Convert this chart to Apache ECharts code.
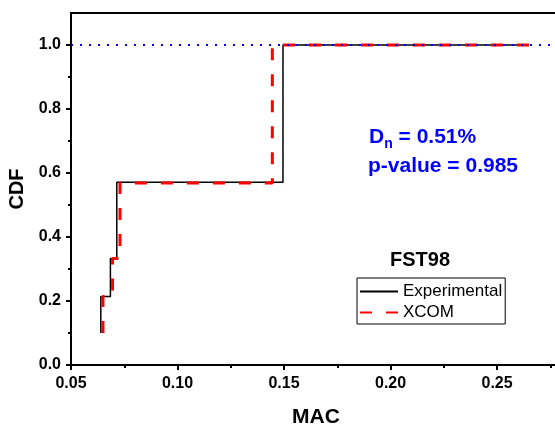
<!DOCTYPE html>
<html>
<head>
<meta charset="utf-8">
<script src="https://cdn.jsdelivr.net/npm/echarts@6/dist/echarts.min.js"></script>
<style>
html,body{margin:0;padding:0;background:#fff;}
#chart{width:555px;height:425px;}
</style>
</head>
<body>
<div id="chart"></div>
<script>
// Step-curve corner points (MAC, CDF)
const expMAC  = [0.064, 0.064, 0.0685, 0.0685, 0.0715, 0.0715, 0.1495, 0.1495, 0.264];
const expCDF  = [0.1, 0.214, 0.214, 0.333, 0.333, 0.571, 0.571, 1.0, 1.0];
const xcomMAC = [0.065, 0.065, 0.0695, 0.0695, 0.073, 0.073, 0.1445, 0.1445, 0.265];
const xcomCDF = [0.1, 0.214, 0.214, 0.333, 0.333, 0.569, 0.569, 1.0, 1.0];
const refMAC  = [0.05, 0.28];
const refCDF  = [1.0, 1.0];
const xMajor = [0.05, 0.10, 0.15, 0.20, 0.25];
const xMinor = [0.075, 0.125, 0.175, 0.225, 0.275];
const yMajor = [0.0, 0.2, 0.4, 0.6, 0.8, 1.0];
const yMinor = [0.1, 0.3, 0.5, 0.7, 0.9];
const seriesNames = ['Experimental', 'XCOM'];
const sampleName = 'FST98';
const statDn = '0.51%';
const statP = '0.985';

const FONT = 'Liberation Sans, Arial, sans-serif';
const zip = (a, b) => a.map((v, i) => [v, b[i]]);

const chart = echarts.init(document.getElementById('chart'), null, {renderer: 'canvas'});
const axisLineStyle = {color: '#000', width: 2};
chart.setOption({
  animation: false,
  backgroundColor: '#fff',
  grid: {left: 71, right: -6, top: 13, bottom: 60, outerBoundsMode: 'none', containLabel: false,
    show: true, borderColor: '#000', borderWidth: 2, backgroundColor: 'transparent'},
  xAxis: [
    {
      type: 'value', min: 0.05, max: 0.28, position: 'bottom',
      name: 'MAC', nameLocation: 'middle', nameGap: 42,
      nameTextStyle: {fontFamily: FONT, fontWeight: 'bold', fontSize: 21, color: '#000'},
      axisLine: {show: true, onZero: false, lineStyle: axisLineStyle},
      axisTick: {show: true, length: 5, customValues: xMajor, lineStyle: {color: '#000', width: 2}},
      axisLabel: {customValues: xMajor, margin: 11, fontFamily: FONT, fontWeight: 'bold', fontSize: 16, color: '#000',
        formatter: v => v.toFixed(2)},
      splitLine: {show: false}
    },
    {
      type: 'value', min: 0.05, max: 0.28, position: 'bottom',
      axisLine: {show: false, onZero: false},
      axisTick: {show: true, length: 3, customValues: xMinor, lineStyle: {color: '#000', width: 2}},
      axisLabel: {show: false},
      splitLine: {show: false}
    }
  ],
  yAxis: [
    {
      type: 'value', min: 0, max: 1.1, position: 'left',
      name: 'CDF', nameLocation: 'middle', nameGap: 37,
      nameTextStyle: {fontFamily: FONT, fontWeight: 'bold', fontSize: 20, color: '#000'},
      axisLine: {show: true, onZero: false, lineStyle: axisLineStyle},
      axisTick: {show: true, length: 5, customValues: yMajor, lineStyle: {color: '#000', width: 2}},
      axisLabel: {customValues: yMajor, margin: 10, fontFamily: FONT, fontWeight: 'bold', fontSize: 16, color: '#000',
        formatter: v => v.toFixed(1)},
      splitLine: {show: false}
    },
    {
      type: 'value', min: 0, max: 1.1, position: 'left',
      axisLine: {show: false, onZero: false},
      axisTick: {show: true, length: 3, customValues: yMinor, lineStyle: {color: '#000', width: 2}},
      axisLabel: {show: false},
      splitLine: {show: false}
    }
  ],
  legend: {
    left: 357, top: 278, orient: 'vertical',
    padding: [5, 3, 3, 2], itemGap: 4, itemWidth: 38, itemHeight: 14,
    borderColor: '#000', borderWidth: 1, borderRadius: 0,
    backgroundColor: '#fff',
    itemStyle: {opacity: 0},
    textStyle: {fontFamily: FONT, fontSize: 17, color: '#000', lineHeight: 16},
    data: seriesNames
  },
  series: [
    {
      name: seriesNames[0], type: 'line', data: zip(expMAC, expCDF),
      symbol: 'none', lineStyle: {color: '#000', width: 1.5}, itemStyle: {color: '#000'}, z: 2
    },
    {
      name: seriesNames[1], type: 'line', data: zip(xcomMAC, xcomCDF),
      symbol: 'none', lineStyle: {color: '#ff0000', width: 3, type: [12, 14]}, itemStyle: {color: '#ff0000'}, z: 3
    },
    {
      name: 'ref', type: 'line', data: zip(refMAC, refCDF),
      symbol: 'none', lineStyle: {color: '#0000ff', width: 2, type: [2, 7]}, z: 4, silent: true
    }
  ],
  graphic: [
    {type: 'text', left: 369, top: 127, z: 10, style: {
      text: '{a|D}{b|n}{a| = ' + statDn + '}',
      rich: {
        a: {fontFamily: FONT, fontWeight: 'bold', fontSize: 21, fill: '#0000ff', color: '#0000ff', verticalAlign: 'top', lineHeight: 26},
        b: {fontFamily: FONT, fontWeight: 'bold', fontSize: 14, fill: '#0000ff', color: '#0000ff', verticalAlign: 'top', lineHeight: 26, padding: [10, 0, 0, 0]}
      }
    }},
    {type: 'text', left: 368, top: 156, z: 10, style: {
      text: 'p-value = ' + statP, fill: '#0000ff',
      font: 'bold 21px ' + FONT
    }},
    {type: 'text', left: 390, top: 250, z: 10, style: {
      text: sampleName, fill: '#000',
      font: 'bold 20px ' + FONT
    }}
  ]
});
</script>
</body>
</html>
